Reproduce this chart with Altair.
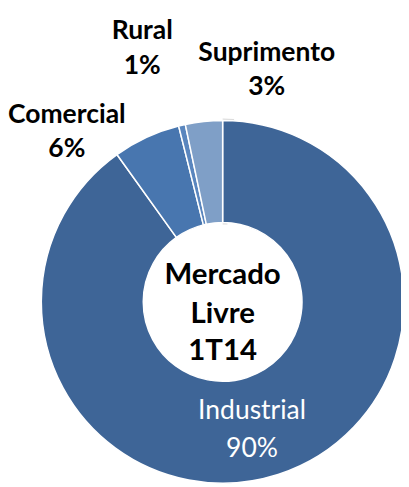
import altair as alt
import pandas as pd

categories = ["Industrial", "Comercial", "Rural", "Suprimento"]
values = [90.1, 6.0, 0.6, 3.3]
pct_labels = ["90%", "6%", "1%", "3%"]
colors = ["#3E6597", "#4876AF", "#5A86BE", "#7F9FC7"]
center_lines = ["Mercado", "Livre", "1T14"]

df = pd.DataFrame({"cat": categories, "val": values, "ord": list(range(len(categories)))})

CX, CY = 219, 295
R_OUT, R_IN = 185, 81
FONT = "Lato"

base = alt.Chart(df)

shadow = alt.Chart(pd.DataFrame({"v": [1]})).mark_arc(
    radius=R_OUT + 2, radius2=R_IN - 2, color="#DCDCDC"
).encode(theta=alt.Theta("v:Q"), x=alt.value(CX), y=alt.value(CY))

donut = base.mark_arc(radius=R_OUT, radius2=R_IN, stroke="white", strokeWidth=1.5).encode(
    theta=alt.Theta("val:Q", stack=True),
    order=alt.Order("ord:Q"),
    color=alt.Color("cat:N", scale=alt.Scale(domain=categories, range=colors), legend=None),
    x=alt.value(CX),
    y=alt.value(CY),
)

# label anchor (plot coords): x, y of first line, y of second line, colour, weight
label_pos = {
    "Industrial": (249, 407, 445, "white", "normal"),
    "Comercial": (60, 104, 139, "black", "bold"),
    "Rural": (137, 19, 54, "black", "bold"),
    "Suprimento": (264, 41, 76, "black", "bold"),
}

def text_layer(txt, x, y, size, weight, color):
    return alt.Chart(pd.DataFrame({"t": [txt]})).mark_text(
        font=FONT, fontSize=size, fontWeight=weight, color=color, align="center", baseline="middle"
    ).encode(text="t:N", x=alt.value(x), y=alt.value(y))

layers = [shadow, donut]
for cat, pct in zip(categories, pct_labels):
    x, y1, y2, c, w = label_pos[cat]
    layers.append(text_layer(cat, x, y1, 27, w, c))
    layers.append(text_layer(pct, x, y2, 27, w, c))

center_y = [268, 308, 345]
for line, y in zip(center_lines, center_y):
    layers.append(text_layer(line, CX, y, 30, "bold", "black"))

chart = alt.layer(*layers).properties(
    width=401, height=479, padding=0, autosize=alt.AutoSizeParams(type="none")
).configure_view(stroke=None)

chart.save("out.html", embed_options={"renderer": "svg", "actions": False})
